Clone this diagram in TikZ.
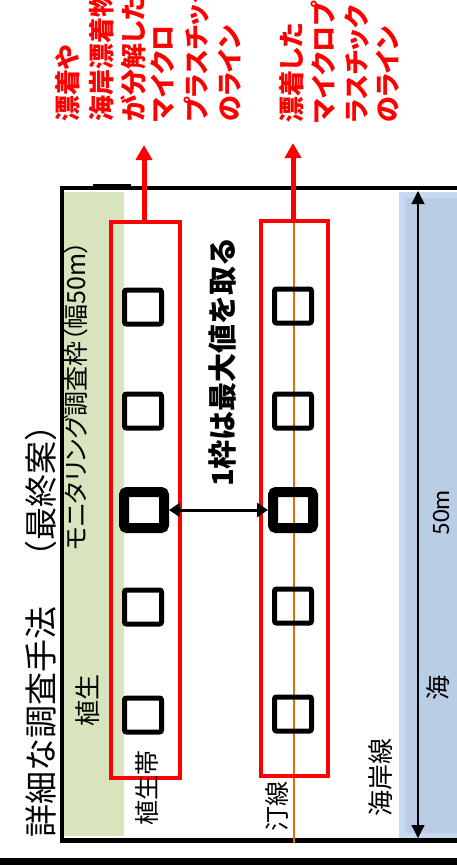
\documentclass[tikz,border=0pt]{standalone}
\usepackage{fontspec}
\setmainfont{Noto Sans CJK JP}
\newfontfamily\propfont{Noto Sans CJK JP}[RawFeature=+palt]
\newfontfamily\latinfont{Carlito}
\usepackage{xcolor}
\usetikzlibrary{arrows.meta,positioning}
\definecolor{vegGreen}{HTML}{D7E4BD}
\definecolor{seaBlue}{HTML}{B9CDE5}
\definecolor{seaEdge}{HTML}{C6D9F1}
\definecolor{tideOrange}{HTML}{E46C0A}

\begin{document}
\begin{tikzpicture}[x=1pt,y=-1pt,
    redframe/.style={draw=red,line width=4pt,inner sep=0pt},
    quadrat/.style={draw=black,line width=5pt,rounded corners=2pt,minimum width=37pt,minimum height=34pt,inner sep=0pt},
    maxquadrat/.style={draw=black,line width=10pt,rounded corners=3pt,minimum width=40pt,minimum height=36pt,inner sep=0pt},
    vtext/.style={rotate=90,inner sep=0pt},
    rednote/.style={vtext,anchor=west,text=red,font=\propfont\fontsize{26}{30}\selectfont\bfseries}]
    \useasboundingbox (0,0) rectangle (457,865);
    \fill[white] (0,0) rectangle (457,865);
    % zones
    \fill[vegGreen,rounded corners=2pt] (64,192) rectangle (124,836);
    \draw[seaEdge,line width=6pt,fill=seaBlue] (402,195) rectangle (480,836);
    % frame
    \draw[line width=4pt] (470,188) -| (62,840);
    \draw[line width=5pt] (60,840) -- (470,840);
    \draw[line width=6pt] (93,186.5) -- (131,186.5);
    \fill[black] (0,858) rectangle (457,865);
    \draw[tideOrange,line width=1.5pt] (294,219) -- (294,843);
    % survey lines
    \node[redframe,minimum width=69pt,minimum height=556pt] (boxL) at (145.5,500) {};
    \node[redframe,minimum width=67pt,minimum height=555pt] (boxR) at (294.5,498.5) {};
    \foreach \i/\yy in {1/307,2/411,4/607,5/715} {
        \node[quadrat] (sqL\i) at (143,\yy) {};
    }
    \foreach \i/\yy in {1/306,2/411,4/606,5/714} {
        \node[quadrat] (sqR\i) at (293,\yy) {};
    }
    \node[maxquadrat] (sqL3) at (144,510) {};
    \node[maxquadrat] (sqR3) at (293,510) {};
    \draw[line width=3pt,{Triangle[width=14pt,length=11pt]}-{Triangle[width=14pt,length=11pt]}] (sqL3) -- (sqR3);
    % red arrows
    \coordinate (tipL) at (144,145);
    \coordinate (tipR) at (293,143);
    \draw[red,line width=5pt,-{Triangle[width=16pt,length=15pt]}] (boxL.north -| tipL) -- (tipL);
    \draw[red,line width=5pt,-{Triangle[width=16pt,length=15pt]}] (boxR.north -| tipR) -- (tipR);
    % width of the frame
    \coordinate (dimTop) at (418,191);
    \coordinate (dimBot) at (418,838);
    \draw[line width=1.2pt,{Triangle[width=13pt,length=13pt]}-{Triangle[width=13pt,length=13pt]}] (dimTop) -- (dimBot);
    % labels
    \node[vtext,anchor=west,font=\fontsize{33}{38}\selectfont] (title) at (41,838) {詳細な調査手法　（最終案）};
    \node[vtext,anchor=west,font=\propfont\fontsize{25}{29}\selectfont] (frameLabel) at (76,551) {モニタリング調査枠（幅50m）};
    \node[vtext,font=\fontsize{26}{30}\selectfont] (vegLabel) at (88,700) {植生};
    \node[vtext,font=\fontsize{25}{29}\selectfont] (vegZone) at (147,788) {植生帯};
    \node[vtext,font=\fontsize{29}{33}\selectfont\bfseries] (maxNote) at (223,362) {1枠は最大値を取る};
    \node[vtext,font=\fontsize{25}{29}\selectfont] (tideLine) at (277,806) {汀線};
    \node[vtext,font=\fontsize{26}{30}\selectfont] (coastLine) at (381,777) {海岸線};
    \node[vtext,font=\fontsize{25}{29}\selectfont] (seaLabel) at (438,688) {海};
    \node[vtext,font=\latinfont\fontsize{25}{29}\selectfont] (widthLabel) at (441,513) {50m};
    \foreach \xx/\txt [count=\i] in {68/漂着や,102/海岸漂着物,133/が分解した,163/マイクロ,197/プラスチック,230/のライン}
        \node[rednote] (noteA\i) at (\xx,122) {\txt};
    \foreach \xx/\txt [count=\i] in {292/漂着した,323/マイクロプ,357/ラスチック,388/のライン}
        \node[rednote] (noteB\i) at (\xx,123) {\txt};
\end{tikzpicture}
\end{document}
